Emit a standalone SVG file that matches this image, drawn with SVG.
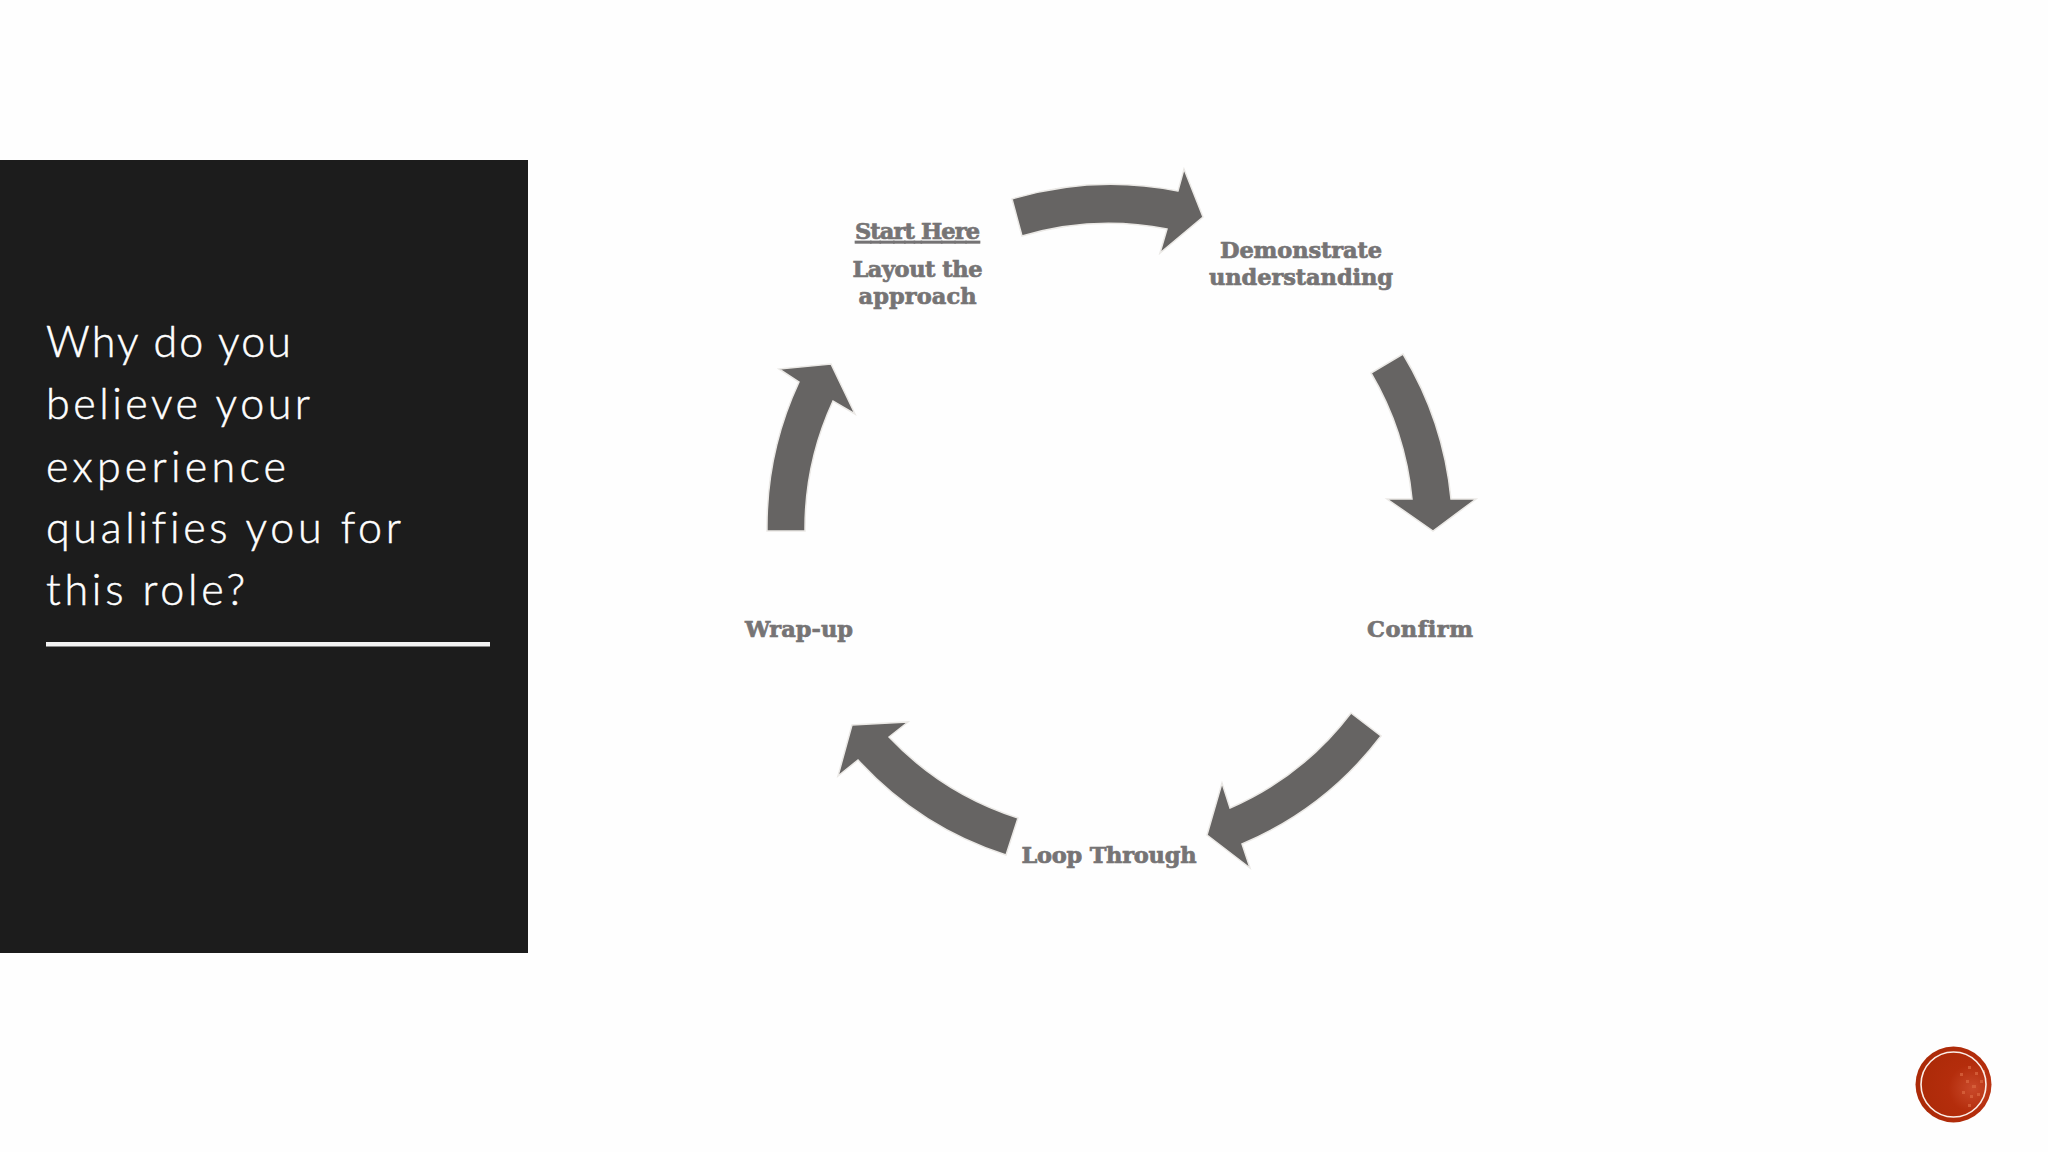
<svg xmlns="http://www.w3.org/2000/svg" width="2048" height="1152" viewBox="0 0 2048 1152">
<defs>
<style>
.arrow{fill:#666463;stroke:#ebe9e6;stroke-width:1.5;stroke-linejoin:miter}
.lbl{font-family:"DejaVu Serif","Liberation Serif",serif;font-weight:700;font-size:22.5px;fill:#767475;stroke:#767475;stroke-width:0.7px;text-anchor:middle;font-variant-ligatures:none}
.title{font-family:Lato,"Liberation Sans",sans-serif;font-weight:300;font-size:43px;fill:#fff;stroke:#fff;stroke-width:0.5px;font-variant-ligatures:none}
</style>
<radialGradient id="seal" cx="0.75" cy="0.55" r="0.7">
<stop offset="0" stop-color="#c9492a"/><stop offset="0.45" stop-color="#b42d0c"/><stop offset="1" stop-color="#ac2a08"/>
</radialGradient>
</defs>
<rect width="2048" height="1152" fill="#fefefe"/>
<g id="panel">
<rect x="0" y="160" width="528" height="793" fill="#1c1c1c"/>
<text class="title" x="46" y="357" textLength="245" lengthAdjust="spacing">Why do you</text>
<text class="title" x="46" y="419" textLength="264" lengthAdjust="spacing">believe your</text>
<text class="title" x="46" y="482" textLength="240" lengthAdjust="spacing">experience</text>
<text class="title" x="46" y="543" textLength="355" lengthAdjust="spacing">qualifies you for</text>
<text class="title" x="46" y="605" textLength="199" lengthAdjust="spacing">this role?</text>
<rect x="46" y="642" width="444" height="4.5" fill="#f2f2f2"/>
</g>
<g id="connectors">
<path class="arrow" d="M1012 199A343 343 0 0 1 1178 191L1184 169L1203 217L1160 253L1167 229A306 306 0 0 0 1022 236Z"/>
<path class="arrow" d="M1403 354A343 343 0 0 1 1451 499L1476 499L1433 531L1387 499L1412 499A306 306 0 0 0 1371 373Z"/>
<path class="arrow" d="M1381 736A343 343 0 0 1 1242 844L1250 868L1207 835L1222 783L1230 808A305 305 0 0 0 1351 713Z"/>
<path class="arrow" d="M1006 855A343 343 0 0 1 858 760L838 776L852 725L908 722L889 737A305 305 0 0 0 1018 818Z"/>
<path class="arrow" d="M767 531A343 343 0 0 1 799 382L779 369L831 364L855 414L833 401A305 305 0 0 0 805 531Z"/>
</g>
<g id="node-start">
<text class="lbl" x="917.5" y="239" textLength="125" text-decoration="underline">Start Here</text>
<text class="lbl" x="917.5" y="276.500" textLength="130">Layout the</text>
<text class="lbl" x="917.5" y="303.500" textLength="118">approach</text>
</g>
<g id="node-demonstrate">
<text class="lbl" x="1301" y="257.500" textLength="162">Demonstrate</text>
<text class="lbl" x="1301" y="284.500" textLength="184">understanding</text>
</g>
<g id="node-confirm"><text class="lbl" x="1420" y="636.500" textLength="106">Confirm</text></g>
<g id="node-loop"><text class="lbl" x="1109" y="862.500" textLength="175">Loop Through</text></g>
<g id="node-wrap"><text class="lbl" x="799" y="636.500" textLength="108">Wrap-up</text></g>
<g id="seal-mark">
<circle cx="1953.5" cy="1084.5" r="38" fill="url(#seal)"/>
<g fill="#d9653f" opacity="0.75">
<rect x="1960" y="1073" width="3" height="3"/><rect x="1968" y="1066" width="3" height="3"/><rect x="1975" y="1072" width="3" height="3"/>
<rect x="1966" y="1080" width="3" height="3"/><rect x="1972" y="1085" width="4" height="3"/><rect x="1980" y="1080" width="3" height="3"/>
<rect x="1962" y="1091" width="3" height="3"/><rect x="1970" y="1095" width="3" height="3"/><rect x="1977" y="1093" width="3" height="3"/>
<rect x="1968" y="1104" width="3" height="3"/><rect x="1982" y="1070" width="3" height="3"/><rect x="1984" y="1090" width="2" height="3"/>
</g>
<circle cx="1953.5" cy="1084.5" r="32.5" fill="none" stroke="#fbeee8" stroke-width="1.6"/>
</g>
</svg>
